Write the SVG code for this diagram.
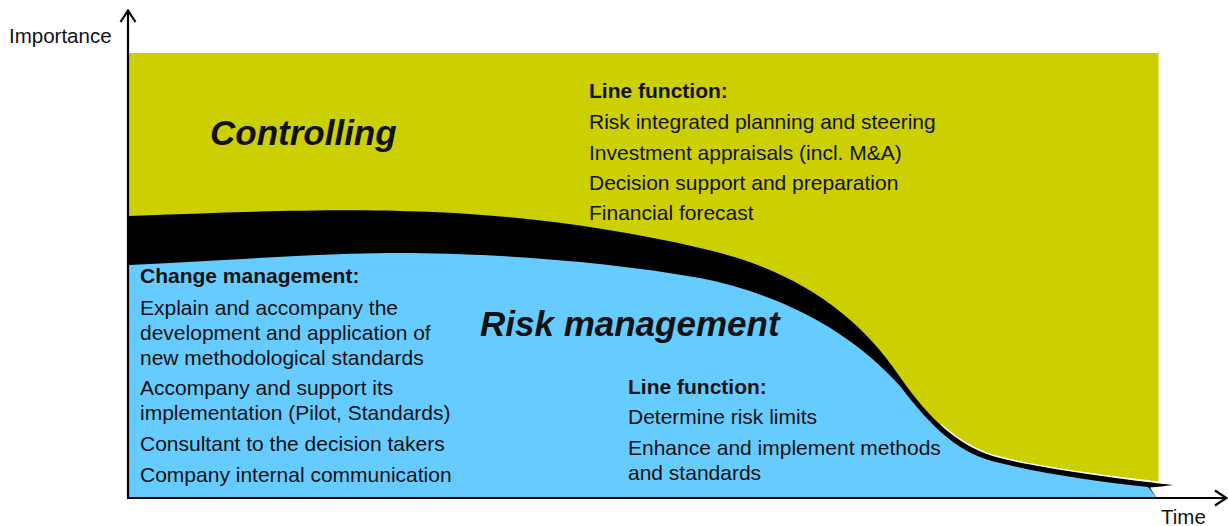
<svg xmlns="http://www.w3.org/2000/svg" width="1228" height="526" viewBox="0 0 1228 526">
  <defs>
    <marker id="arr" viewBox="0 0 14 18" refX="12" refY="9" markerWidth="14" markerHeight="18" orient="auto" markerUnits="userSpaceOnUse">
      <path d="M1,1.5 L12.5,9 L1,16.5" fill="none" stroke="#000" stroke-width="2.2" stroke-linejoin="miter"/>
    </marker>
  </defs>
  <style>
    text { font-family: "Liberation Sans", Arial, sans-serif; fill: #111; }
    .t { font-size: 21px; }
    .h { font-size: 21px; font-weight: bold; }
    .big { font-size: 35px; font-weight: bold; font-style: italic; }
    .ax { font-size: 20.5px; }
    .axis { stroke: #000; stroke-width: 2.2; fill: none; }
  </style>
  <rect width="1228" height="526" fill="#ffffff"/>

  <g id="controlling-area">
    <rect x="129" y="53" width="1029.5" height="445" fill="#cccf00"/>
  </g>

  <g id="transition-band">
    <path d="M940,425 C962,444 982,454 1000,458 C1030,466 1100,477 1160,483" fill="none" stroke="#fff" stroke-width="3"/>
    <path d="M129,216 C230,212 330,209 400,211 C500,213 600,225 700,248 C790,268 855,310 900,377 C930,420 960,448 1000,458 C1030,466 1100,477 1173,485 L1150,488 L1157,498 L129,498 Z" fill="#000"/>
    <path d="M1150,487.6 L1160,486.8 L1160,498 L1157,498 Z" fill="#fff"/>
  </g>

  <g id="risk-area">
    <path d="M129,265 C220,261 320,253 400,253 C480,253 600,260 700,278 C780,294 850,330 900,386 C932,428 960,455 1000,463 C1040,473 1100,482 1148,487 L1157,498 L129,498 Z" fill="#66ccff"/>
  </g>

  <g id="axes">
    <line class="axis" x1="128" y1="498" x2="128" y2="11" marker-end="url(#arr)"/>
    <line class="axis" x1="127" y1="498" x2="1226" y2="498" marker-end="url(#arr)"/>
    <text class="ax" x="9" y="43">Importance</text>
    <text class="ax" x="1161" y="524">Time</text>
  </g>

  <g id="controlling-node">
    <text class="big" x="210" y="145">Controlling</text>
    <text class="h" x="589" y="98">Line function:</text>
    <text class="t" x="589" y="129">Risk integrated planning and steering</text>
    <text class="t" x="589" y="160">Investment appraisals (incl. M&amp;A)</text>
    <text class="t" x="589" y="190">Decision support and preparation</text>
    <text class="t" x="589" y="220">Financial forecast</text>
  </g>

  <g id="change-management-node">
    <text class="h" x="140" y="283">Change management:</text>
    <text class="t" x="140" y="315">Explain and accompany the</text>
    <text class="t" x="140" y="340">development and application of</text>
    <text class="t" x="140" y="365">new methodological standards</text>
    <text class="t" x="140" y="395">Accompany and support its</text>
    <text class="t" x="140" y="420">implementation (Pilot, Standards)</text>
    <text class="t" x="140" y="451">Consultant to the decision takers</text>
    <text class="t" x="140" y="482">Company internal communication</text>
  </g>

  <g id="risk-management-node">
    <text class="big" x="480" y="336">Risk management</text>
    <text class="h" x="628" y="394">Line function:</text>
    <text class="t" x="628" y="424">Determine risk limits</text>
    <text class="t" x="628" y="455">Enhance and implement methods</text>
    <text class="t" x="628" y="480">and standards</text>
  </g>
</svg>
